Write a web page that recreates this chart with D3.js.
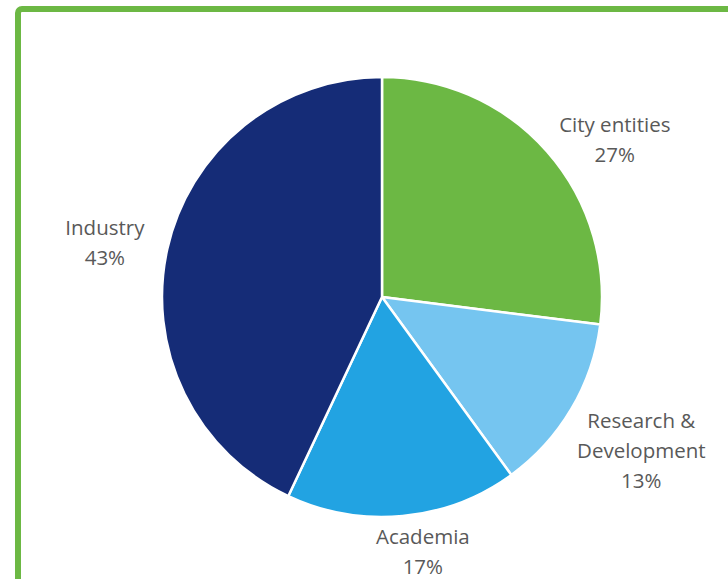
<!DOCTYPE html>
<html>
<head>
<meta charset="utf-8">
<script src="https://cdn.jsdelivr.net/npm/d3@7"></script>
<style>
  html, body { margin: 0; padding: 0; background: #fff; overflow: hidden; }
  svg { display: block; }
</style>
</head>
<body>
<div id="chart"></div>
<script>
// Chart data
var categories = ["City entities", "Research & Development", "Academia", "Industry"];
var shares = [27, 13, 17, 43];
var labelLines = [["City entities"], ["Research &", "Development"], ["Academia"], ["Industry"]];
var colors = ["#6cb844", "#75c5f0", "#22a3e2", "#152c77"];

// Layout
var width = 728, height = 579;
var cx = 382, cy = 297, radius = 220;
var labelRadius = 285;
// small nudges so labels sit where the original best-fit placed them
var labelNudge = [[19, 30], [14, 8], [14, -30], [1, 7]];

var svg = d3.select("#chart")
    .append("svg")
    .attr("width", width)
    .attr("height", height);

// Green frame (runs off the right and bottom edges)
svg.append("rect")
    .attr("x", 18)
    .attr("y", 9)
    .attr("width", 760)
    .attr("height", 640)
    .attr("rx", 4)
    .attr("fill", "none")
    .attr("stroke", "#6cb844")
    .attr("stroke-width", 6);

var data = categories.map(function (c, i) {
    return { name: c, value: shares[i], lines: labelLines[i], color: colors[i], idx: i };
});

var pie = d3.pie()
    .sort(null)
    .value(function (d) { return d.value; });

var arc = d3.arc()
    .innerRadius(0)
    .outerRadius(radius);

var g = svg.append("g")
    .attr("transform", "translate(" + cx + "," + cy + ")");

var arcs = pie(data);

g.selectAll("path")
    .data(arcs)
    .enter().append("path")
    .attr("d", arc)
    .attr("fill", function (d) { return d.data.color; })
    .attr("stroke", "#fff")
    .attr("stroke-width", 2.5)
    .attr("stroke-linejoin", "round");

// Labels outside the pie
var lineH = 30;
var labels = g.selectAll(".slice-label")
    .data(arcs)
    .enter().append("text")
    .attr("class", "slice-label")
    .attr("text-anchor", "middle")
    .attr("font-family", "'Open Sans', 'Noto Sans', sans-serif")
    .attr("font-size", "20.5px")
    .attr("fill", "#595959")
    .attr("transform", function (d) {
        var a = (d.startAngle + d.endAngle) / 2;
        var n = labelNudge[d.data.idx];
        var x = Math.sin(a) * labelRadius + n[0];
        var y = -Math.cos(a) * labelRadius + n[1];
        return "translate(" + x + "," + y + ")";
    });

labels.each(function (d) {
    var t = d3.select(this);
    var lines = d.data.lines.concat([d.data.value + "%"]);
    var top = -(lines.length - 1) * lineH / 2;
    lines.forEach(function (l, k) {
        t.append("tspan")
            .attr("x", 0)
            .attr("y", top + k * lineH)
            .attr("dominant-baseline", "central")
            .text(l);
    });
});
</script>
</body>
</html>
